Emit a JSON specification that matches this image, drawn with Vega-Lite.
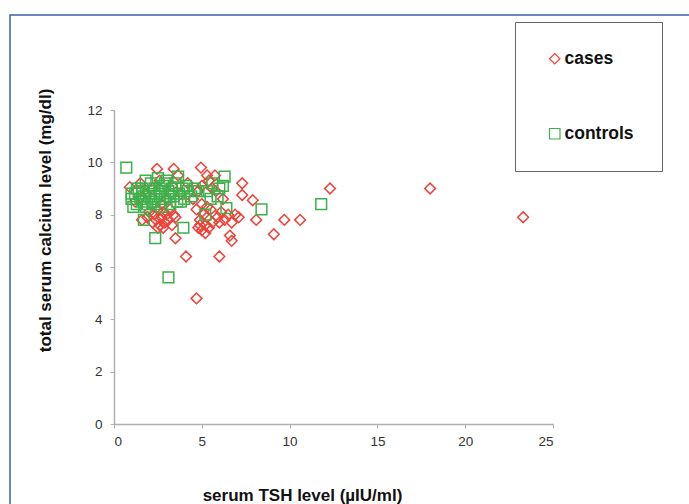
{
  "$schema": "https://vega.github.io/schema/vega-lite/v6.json",
  "width": 700,
  "height": 520,
  "autosize": {"type": "none"},
  "padding": {"left": 10, "top": 15, "right": 0, "bottom": 0},
  "background": "white",
  "config": {
    "font": "Liberation Sans",
    "view": {"stroke": "#3d5fae", "strokeWidth": 1.5, "fill": "white"},
    "axis": {
      "grid": false,
      "domainColor": "#b0b0b0",
      "domainWidth": 1.5,
      "tickColor": "#b0b0b0",
      "tickWidth": 1,
      "tickSize": 4,
      "labelFont": "Liberation Sans",
      "labelFontSize": 13.5,
      "labelColor": "#333333",
      "titleFont": "Liberation Sans",
      "titleFontSize": 17,
      "titleFontWeight": "bold",
      "titleColor": "#111111"
    },
    "legend": {
      "labelFont": "Liberation Sans",
      "labelFontSize": 17.5,
      "labelFontWeight": "bold",
      "labelColor": "#111111"
    }
  },
  "data": {
    "values": [
      {"tsh": 1.9, "calcium": 7.9, "group": "cases"},
      {"tsh": 2.0, "calcium": 8.1, "group": "cases"},
      {"tsh": 2.2, "calcium": 7.7, "group": "cases"},
      {"tsh": 2.3, "calcium": 8.0, "group": "cases"},
      {"tsh": 2.4, "calcium": 7.8, "group": "cases"},
      {"tsh": 2.5, "calcium": 8.2, "group": "cases"},
      {"tsh": 2.6, "calcium": 7.6, "group": "cases"},
      {"tsh": 2.7, "calcium": 7.9, "group": "cases"},
      {"tsh": 2.8, "calcium": 8.1, "group": "cases"},
      {"tsh": 2.9, "calcium": 7.7, "group": "cases"},
      {"tsh": 3.0, "calcium": 8.0, "group": "cases"},
      {"tsh": 3.1, "calcium": 7.8, "group": "cases"},
      {"tsh": 3.2, "calcium": 8.2, "group": "cases"},
      {"tsh": 3.3, "calcium": 7.6, "group": "cases"},
      {"tsh": 3.4, "calcium": 8.0, "group": "cases"},
      {"tsh": 3.5, "calcium": 7.9, "group": "cases"},
      {"tsh": 2.5, "calcium": 7.5, "group": "cases"},
      {"tsh": 2.8, "calcium": 7.5, "group": "cases"},
      {"tsh": 4.7, "calcium": 8.2, "group": "cases"},
      {"tsh": 4.8, "calcium": 7.5, "group": "cases"},
      {"tsh": 4.9, "calcium": 7.8, "group": "cases"},
      {"tsh": 5.0, "calcium": 7.4, "group": "cases"},
      {"tsh": 5.1, "calcium": 8.0, "group": "cases"},
      {"tsh": 5.2, "calcium": 7.6, "group": "cases"},
      {"tsh": 5.3, "calcium": 7.9, "group": "cases"},
      {"tsh": 5.4, "calcium": 7.5, "group": "cases"},
      {"tsh": 5.5, "calcium": 8.2, "group": "cases"},
      {"tsh": 5.6, "calcium": 7.7, "group": "cases"},
      {"tsh": 5.0, "calcium": 8.4, "group": "cases"},
      {"tsh": 5.3, "calcium": 8.3, "group": "cases"},
      {"tsh": 4.9, "calcium": 7.6, "group": "cases"},
      {"tsh": 5.2, "calcium": 7.3, "group": "cases"},
      {"tsh": 5.9, "calcium": 7.9, "group": "cases"},
      {"tsh": 6.1, "calcium": 8.1, "group": "cases"},
      {"tsh": 6.3, "calcium": 7.8, "group": "cases"},
      {"tsh": 6.5, "calcium": 8.0, "group": "cases"},
      {"tsh": 6.7, "calcium": 7.7, "group": "cases"},
      {"tsh": 6.9, "calcium": 8.0, "group": "cases"},
      {"tsh": 7.1, "calcium": 7.9, "group": "cases"},
      {"tsh": 6.0, "calcium": 7.7, "group": "cases"},
      {"tsh": 1.2, "calcium": 8.5, "group": "cases"},
      {"tsh": 1.5, "calcium": 9.2, "group": "cases"},
      {"tsh": 1.8, "calcium": 8.8, "group": "cases"},
      {"tsh": 2.2, "calcium": 9.0, "group": "cases"},
      {"tsh": 2.6, "calcium": 9.3, "group": "cases"},
      {"tsh": 3.0, "calcium": 8.6, "group": "cases"},
      {"tsh": 3.3, "calcium": 9.1, "group": "cases"},
      {"tsh": 3.8, "calcium": 8.8, "group": "cases"},
      {"tsh": 4.2, "calcium": 9.2, "group": "cases"},
      {"tsh": 4.5, "calcium": 8.6, "group": "cases"},
      {"tsh": 5.0, "calcium": 9.1, "group": "cases"},
      {"tsh": 5.4, "calcium": 9.3, "group": "cases"},
      {"tsh": 5.8, "calcium": 8.9, "group": "cases"},
      {"tsh": 6.2, "calcium": 8.6, "group": "cases"},
      {"tsh": 4.8, "calcium": 8.9, "group": "cases"},
      {"tsh": 5.6, "calcium": 9.0, "group": "cases"},
      {"tsh": 0.9, "calcium": 9.05, "group": "cases"},
      {"tsh": 2.45, "calcium": 9.75, "group": "cases"},
      {"tsh": 3.4, "calcium": 9.75, "group": "cases"},
      {"tsh": 4.95, "calcium": 9.8, "group": "cases"},
      {"tsh": 5.3, "calcium": 9.5, "group": "cases"},
      {"tsh": 5.75, "calcium": 9.5, "group": "cases"},
      {"tsh": 3.65, "calcium": 9.5, "group": "cases"},
      {"tsh": 7.3, "calcium": 9.2, "group": "cases"},
      {"tsh": 7.3, "calcium": 8.75, "group": "cases"},
      {"tsh": 7.9, "calcium": 8.55, "group": "cases"},
      {"tsh": 8.1, "calcium": 7.8, "group": "cases"},
      {"tsh": 9.7, "calcium": 7.8, "group": "cases"},
      {"tsh": 10.6, "calcium": 7.8, "group": "cases"},
      {"tsh": 9.1, "calcium": 7.25, "group": "cases"},
      {"tsh": 12.3, "calcium": 9.0, "group": "cases"},
      {"tsh": 18.0, "calcium": 9.0, "group": "cases"},
      {"tsh": 23.3, "calcium": 7.9, "group": "cases"},
      {"tsh": 6.6, "calcium": 7.2, "group": "cases"},
      {"tsh": 6.7, "calcium": 7.0, "group": "cases"},
      {"tsh": 3.5, "calcium": 7.1, "group": "cases"},
      {"tsh": 1.6, "calcium": 7.8, "group": "cases"},
      {"tsh": 4.1, "calcium": 6.4, "group": "cases"},
      {"tsh": 6.0, "calcium": 6.4, "group": "cases"},
      {"tsh": 4.7, "calcium": 4.8, "group": "cases"},
      {"tsh": 2.7, "calcium": 8.4, "group": "cases"},
      {"tsh": 0.7, "calcium": 9.8, "group": "controls"},
      {"tsh": 1.0, "calcium": 8.6, "group": "controls"},
      {"tsh": 1.1, "calcium": 8.3, "group": "controls"},
      {"tsh": 1.2, "calcium": 8.8, "group": "controls"},
      {"tsh": 1.3, "calcium": 9.0, "group": "controls"},
      {"tsh": 1.5, "calcium": 8.6, "group": "controls"},
      {"tsh": 1.6, "calcium": 9.0, "group": "controls"},
      {"tsh": 1.7, "calcium": 8.7, "group": "controls"},
      {"tsh": 1.8, "calcium": 9.3, "group": "controls"},
      {"tsh": 1.8, "calcium": 8.3, "group": "controls"},
      {"tsh": 1.9, "calcium": 8.4, "group": "controls"},
      {"tsh": 2.0, "calcium": 8.9, "group": "controls"},
      {"tsh": 2.1, "calcium": 9.2, "group": "controls"},
      {"tsh": 2.2, "calcium": 8.5, "group": "controls"},
      {"tsh": 2.3, "calcium": 9.0, "group": "controls"},
      {"tsh": 2.4, "calcium": 8.7, "group": "controls"},
      {"tsh": 2.5, "calcium": 9.4, "group": "controls"},
      {"tsh": 2.6, "calcium": 8.8, "group": "controls"},
      {"tsh": 2.7, "calcium": 8.3, "group": "controls"},
      {"tsh": 2.8, "calcium": 9.1, "group": "controls"},
      {"tsh": 2.9, "calcium": 8.6, "group": "controls"},
      {"tsh": 3.0, "calcium": 9.3, "group": "controls"},
      {"tsh": 3.1, "calcium": 8.9, "group": "controls"},
      {"tsh": 3.2, "calcium": 8.4, "group": "controls"},
      {"tsh": 3.3, "calcium": 9.0, "group": "controls"},
      {"tsh": 3.4, "calcium": 8.7, "group": "controls"},
      {"tsh": 3.5, "calcium": 9.2, "group": "controls"},
      {"tsh": 3.6, "calcium": 8.5, "group": "controls"},
      {"tsh": 3.65, "calcium": 9.45, "group": "controls"},
      {"tsh": 3.7, "calcium": 8.8, "group": "controls"},
      {"tsh": 3.9, "calcium": 9.0, "group": "controls"},
      {"tsh": 4.0, "calcium": 8.6, "group": "controls"},
      {"tsh": 4.2, "calcium": 8.9, "group": "controls"},
      {"tsh": 4.4, "calcium": 8.7, "group": "controls"},
      {"tsh": 4.6, "calcium": 9.0, "group": "controls"},
      {"tsh": 1.4, "calcium": 8.9, "group": "controls"},
      {"tsh": 1.6, "calcium": 8.5, "group": "controls"},
      {"tsh": 2.0, "calcium": 8.7, "group": "controls"},
      {"tsh": 2.3, "calcium": 8.4, "group": "controls"},
      {"tsh": 2.6, "calcium": 9.0, "group": "controls"},
      {"tsh": 2.9, "calcium": 9.2, "group": "controls"},
      {"tsh": 3.2, "calcium": 8.7, "group": "controls"},
      {"tsh": 2.1, "calcium": 8.6, "group": "controls"},
      {"tsh": 2.7, "calcium": 8.9, "group": "controls"},
      {"tsh": 3.8, "calcium": 8.5, "group": "controls"},
      {"tsh": 4.1, "calcium": 9.1, "group": "controls"},
      {"tsh": 1.7, "calcium": 7.8, "group": "controls"},
      {"tsh": 2.35, "calcium": 7.1, "group": "controls"},
      {"tsh": 3.95, "calcium": 7.5, "group": "controls"},
      {"tsh": 3.1, "calcium": 5.6, "group": "controls"},
      {"tsh": 5.2, "calcium": 8.0, "group": "controls"},
      {"tsh": 5.3, "calcium": 8.9, "group": "controls"},
      {"tsh": 5.6, "calcium": 9.2, "group": "controls"},
      {"tsh": 5.9, "calcium": 8.7, "group": "controls"},
      {"tsh": 6.2, "calcium": 9.1, "group": "controls"},
      {"tsh": 6.3, "calcium": 9.45, "group": "controls"},
      {"tsh": 6.4, "calcium": 8.25, "group": "controls"},
      {"tsh": 5.5, "calcium": 8.6, "group": "controls"},
      {"tsh": 6.0, "calcium": 9.0, "group": "controls"},
      {"tsh": 8.4, "calcium": 8.2, "group": "controls"},
      {"tsh": 11.8, "calcium": 8.4, "group": "controls"},
      {"tsh": 1.0, "calcium": 8.8, "group": "controls"},
      {"tsh": 1.3, "calcium": 8.4, "group": "controls"},
      {"tsh": 4.8, "calcium": 8.9, "group": "controls"}
    ]
  },
  "mark": {"type": "point", "filled": false, "strokeWidth": 1.5, "size": 115, "opacity": 1},
  "encoding": {
    "x": {
      "field": "tsh",
      "type": "quantitative",
      "scale": {"domain": [0, 25], "range": [104, 543], "nice": false, "zero": true},
      "axis": {
        "title": "serum TSH level (µIU/ml)",
        "orient": "bottom",
        "offset": -111,
        "values": [0, 5, 10, 15, 20, 25],
        "labelPadding": 6,
        "titleX": 292,
        "titleY": 76,
        "titleBaseline": "alphabetic",
        "titleAnchor": "middle",
        "titleAlign": "center"
      }
    },
    "y": {
      "field": "calcium",
      "type": "quantitative",
      "scale": {"domain": [0, 12], "range": [409, 95], "nice": false, "zero": true},
      "axis": {
        "title": "total serum calcium level (mg/dl)",
        "orient": "left",
        "offset": -104,
        "values": [0, 2, 4, 6, 8, 10, 12],
        "labelPadding": 8,
        "titleX": -69,
        "titleY": 205,
        "titleAngle": -90,
        "titleBaseline": "middle",
        "titleAlign": "center"
      }
    },
    "color": {
      "field": "group",
      "type": "nominal",
      "scale": {"domain": ["cases", "controls"], "range": ["#ee4238", "#3cb04a"]},
      "legend": {
        "title": null,
        "orient": "none",
        "legendX": 505,
        "legendY": 7,
        "padding": 28,
        "symbolOffset": 3,
        "rowPadding": 56,
        "labelOffset": 1,
        "symbolSize": 110,
        "symbolStrokeWidth": 1.2,
        "strokeColor": "#666666",
        "fillColor": "white"
      }
    },
    "shape": {
      "field": "group",
      "type": "nominal",
      "scale": {"domain": ["cases", "controls"], "range": ["diamond", "square"]}
    }
  }
}
